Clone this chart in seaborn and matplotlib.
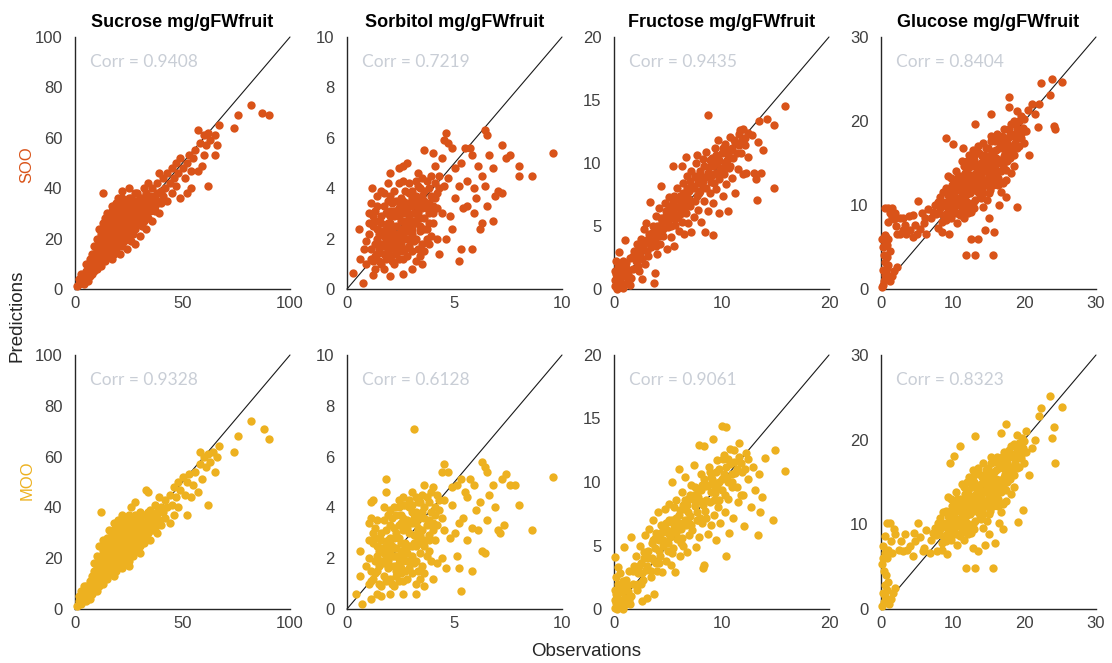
import matplotlib
matplotlib.use("Agg")
import matplotlib.pyplot as plt
import seaborn as sns
import pandas as pd

# ---- sugar panels ----
sugars = ["Sucrose", "Sorbitol", "Fructose", "Glucose"]
unit = "mg/gFWfruit"
axis_max = [100, 10, 20, 30]
x_ticks = [[0, 50, 100], [0, 5, 10], [0, 10, 20], [0, 10, 20, 30]]
y_ticks = [[0, 20, 40, 60, 80, 100], [0, 2, 4, 6, 8, 10], [0, 5, 10, 15, 20], [0, 10, 20, 30]]

models = ["SOO", "MOO"]
model_colors = ["#D95319", "#EDB120"]
corr_soo = [0.9408, 0.7219, 0.9435, 0.8404]
corr_moo = [0.9328, 0.6128, 0.9061, 0.8323]

# (observation, prediction) pairs per sugar and model
sucrose_soo = [
    (1, 1), (2, 2), (2, 4), (3, 3), (3, 6), (4, 2), (4, 5), (5, 4), (5, 7), (5, 10),
    (6, 3), (6, 6), (6, 9), (7, 5), (7, 8), (7, 12), (8, 6), (8, 10), (8, 14), (9, 7),
    (9, 11), (9, 17), (10, 8), (10, 13), (10, 20), (11, 10), (11, 15), (11, 24), (12, 9), (12, 12),
    (12, 17), (12, 22), (13, 14), (13, 19), (13, 26), (13, 38), (14, 11), (14, 16), (14, 21), (14, 28),
    (15, 13), (15, 18), (15, 23), (15, 30), (16, 15), (16, 20), (16, 26), (17, 12), (17, 17), (17, 22),
    (17, 28), (17, 33), (18, 14), (18, 19), (18, 24), (18, 30), (19, 16), (19, 21), (19, 27), (19, 34),
    (20, 18), (20, 23), (20, 29), (20, 36), (21, 14), (21, 20), (21, 25), (21, 31), (22, 17), (22, 22),
    (22, 27), (22, 33), (22, 39), (23, 19), (23, 24), (23, 29), (23, 35), (24, 16), (24, 21), (24, 26),
    (24, 31), (25, 23), (25, 28), (25, 34), (25, 40), (26, 19), (26, 25), (26, 30), (26, 36), (27, 22),
    (27, 27), (27, 32), (28, 18), (28, 24), (28, 29), (28, 35), (29, 26), (29, 31), (29, 38), (30, 21),
    (30, 28), (30, 33), (31, 25), (31, 30), (31, 36), (32, 27), (32, 32), (32, 40), (33, 24), (33, 30),
    (33, 35), (34, 28), (34, 33), (34, 42), (35, 31), (35, 37), (36, 27), (36, 34), (36, 40), (37, 31),
    (37, 37), (38, 35), (38, 42), (39, 30), (39, 46), (40, 34), (40, 39), (41, 37), (41, 44), (42, 40),
    (43, 35), (43, 46), (44, 42), (45, 38), (45, 48), (46, 44), (47, 41), (47, 50), (48, 46), (49, 36),
    (49, 52), (50, 48), (51, 44), (52, 50), (52, 38), (53, 53), (54, 40), (54, 47), (55, 52), (56, 55),
    (57, 47), (57, 63), (58, 58), (59, 49), (60, 53), (60, 61), (61, 57), (62, 62), (62, 41), (63, 59),
    (65, 53), (65, 61), (66, 57), (67, 65), (74, 64), (76, 69), (82, 73), (87, 70), (90, 69),
    (6, 7), (7, 9), (8, 8), (8, 12), (9, 9), (9, 14), (10, 10), (10, 16), (11, 12), (11, 18),
    (12, 14), (12, 19), (13, 12), (13, 17), (13, 22), (14, 14), (14, 19), (14, 24), (15, 16), (15, 21),
    (15, 27), (16, 18), (16, 23), (16, 29), (17, 15), (17, 20), (17, 25), (17, 31), (18, 17), (18, 22),
    (18, 27), (18, 33), (19, 19), (19, 24), (19, 30), (20, 21), (20, 26), (20, 32), (21, 23), (21, 28),
    (21, 34), (22, 20), (22, 25), (22, 30), (22, 36), (23, 22), (23, 27), (23, 32), (24, 24), (24, 29),
    (24, 34), (25, 20), (25, 26), (25, 31), (25, 36), (26, 27), (26, 33), (27, 24), (27, 29), (27, 35),
    (28, 27), (28, 32), (28, 38), (29, 29), (29, 34), (30, 26), (30, 30), (30, 36), (31, 28), (31, 33),
    (32, 30), (32, 35), (33, 32), (33, 38), (34, 31), (34, 36), (35, 34), (36, 36), (37, 33), (38, 38),
]
sucrose_moo = [
    (1, 1), (2, 3), (2, 5), (3, 2), (3, 7), (4, 4), (4, 9), (5, 3), (5, 6), (5, 9),
    (6, 5), (6, 8), (7, 4), (7, 7), (7, 11), (8, 6), (8, 9), (8, 13), (9, 8), (9, 12),
    (9, 18), (10, 7), (10, 11), (10, 15), (10, 21), (11, 9), (11, 14), (11, 25), (12, 11), (12, 16),
    (12, 20), (12, 38), (13, 10), (13, 15), (13, 21), (13, 27), (14, 13), (14, 18), (14, 24), (15, 12),
    (15, 17), (15, 22), (15, 28), (16, 14), (16, 19), (16, 25), (16, 31), (17, 16), (17, 21), (17, 27),
    (18, 13), (18, 18), (18, 23), (18, 29), (18, 34), (19, 15), (19, 20), (19, 26), (19, 32), (20, 17),
    (20, 22), (20, 28), (20, 35), (21, 19), (21, 24), (21, 30), (22, 16), (22, 21), (22, 26), (22, 32),
    (22, 37), (23, 18), (23, 23), (23, 28), (23, 34), (24, 20), (24, 25), (24, 30), (24, 36), (25, 17),
    (25, 22), (25, 27), (25, 33), (26, 24), (26, 29), (26, 35), (26, 40), (27, 21), (27, 26), (27, 31),
    (28, 23), (28, 28), (28, 34), (28, 42), (29, 25), (29, 30), (29, 36), (30, 22), (30, 27), (30, 32),
    (30, 38), (31, 29), (31, 34), (32, 26), (32, 31), (32, 37), (33, 28), (33, 33), (33, 47), (34, 30),
    (34, 36), (34, 46), (35, 27), (35, 33), (35, 39), (36, 31), (36, 37), (37, 34), (37, 41), (38, 30),
    (38, 38), (39, 35), (39, 44), (40, 33), (40, 40), (41, 38), (42, 36), (42, 43), (43, 40), (44, 34),
    (44, 45), (45, 41), (46, 37), (46, 48), (47, 44), (48, 40), (48, 50), (49, 47), (50, 52), (51, 45),
    (52, 50), (52, 37), (53, 53), (54, 44), (55, 49), (56, 54), (57, 46), (58, 57), (58, 62), (59, 51),
    (60, 60), (61, 56), (62, 61), (62, 41), (63, 58), (64, 62), (65, 54), (66, 60), (67, 64), (74, 62),
    (76, 68), (82, 74), (88, 71), (90, 67),
    (6, 6), (7, 9), (8, 7), (8, 11), (9, 10), (9, 15), (10, 9), (10, 17), (11, 11), (11, 19),
    (12, 13), (12, 18), (13, 12), (13, 18), (13, 23), (14, 15), (14, 20), (14, 26), (15, 15), (15, 20),
    (15, 25), (16, 17), (16, 22), (16, 28), (17, 14), (17, 19), (17, 24), (17, 30), (18, 16), (18, 21),
    (18, 26), (18, 31), (19, 18), (19, 23), (19, 29), (20, 20), (20, 25), (20, 31), (21, 22), (21, 27),
    (21, 33), (22, 19), (22, 24), (22, 29), (22, 35), (23, 21), (23, 26), (23, 31), (24, 23), (24, 28),
    (24, 33), (25, 19), (25, 25), (25, 30), (25, 37), (26, 26), (26, 32), (27, 23), (27, 28), (27, 34),
    (28, 26), (28, 31), (28, 37), (29, 28), (29, 33), (30, 25), (30, 29), (30, 35), (31, 27), (31, 32),
    (32, 29), (32, 34), (33, 31), (33, 37), (34, 32), (34, 38), (35, 35), (36, 35), (37, 32), (38, 37),
]

sorbitol_soo = [
    (0.3, 0.65), (0.75, 0.25), (1.2, 0.55), (1.3, 0.8), (0.9, 1.0), (0.6, 1.2), (0.55, 2.4), (0.8, 1.6),
    (1.15, 4.0), (1.0, 3.0), (1.4, 3.7), (1.6, 3.9), (1.9, 4.2), (2.0, 4.6), (2.4, 4.8), (2.6, 4.9),
    (2.8, 5.0), (3.3, 4.6), (3.6, 5.5), (4.0, 5.4), (4.1, 4.9), (4.4, 5.2), (4.5, 5.9), (4.7, 5.8),
    (4.6, 6.2), (4.9, 5.6), (5.0, 4.8), (5.3, 5.0), (5.5, 5.6), (5.7, 5.6), (5.8, 5.3), (6.4, 6.3),
    (6.5, 6.1), (6.1, 4.9), (6.3, 4.5), (6.6, 5.3), (6.8, 4.8), (7.2, 5.7), (7.4, 5.2), (7.6, 5.3),
    (8.0, 4.9), (8.0, 4.5), (8.6, 4.5), (9.6, 5.4), (7.0, 3.9), (7.2, 3.8), (6.9, 3.7), (6.4, 4.1),
    (6.0, 3.6), (5.6, 3.3), (5.4, 3.2), (5.9, 3.0), (6.3, 2.6), (6.2, 2.4), (6.8, 2.7), (5.8, 1.6),
    (5.2, 1.1), (5.3, 1.6), (4.6, 2.0), (4.3, 1.4), (3.8, 1.8), (3.5, 1.0), (3.0, 0.8), (2.6, 0.6),
    (2.0, 0.5), (1.7, 0.8), (4.8, 2.9), (5.0, 3.6), (5.2, 4.1), (4.7, 4.4), (4.2, 3.8), (4.4, 3.0),
    (4.0, 2.6), (3.7, 2.4), (4.9, 2.4), (5.6, 4.3), (5.9, 4.0), (6.5, 3.3),
    (1.3, 1.3), (1.5, 1.6), (1.4, 2.0), (1.6, 2.3), (1.5, 2.7), (1.3, 3.1), (1.7, 3.3), (1.8, 1.2),
    (1.9, 1.5), (1.8, 1.9), (2.0, 2.2), (1.9, 2.6), (1.8, 3.0), (2.1, 3.4), (2.0, 3.7), (2.2, 1.0),
    (2.3, 1.4), (2.2, 1.8), (2.4, 2.1), (2.3, 2.5), (2.2, 2.9), (2.4, 3.2), (2.5, 3.6), (2.6, 1.2),
    (2.7, 1.6), (2.6, 2.0), (2.8, 2.3), (2.7, 2.7), (2.6, 3.0), (2.8, 3.4), (2.9, 3.8), (3.0, 1.5),
    (3.1, 1.9), (3.0, 2.2), (3.2, 2.6), (3.1, 3.0), (3.0, 3.3), (3.2, 3.7), (3.3, 4.1), (3.4, 1.3),
    (3.5, 1.8), (3.4, 2.3), (3.6, 2.8), (3.5, 3.2), (3.4, 3.5), (3.6, 3.9), (3.7, 4.3), (3.9, 2.1),
    (3.8, 3.0), (4.0, 3.3), (3.9, 3.7), (4.1, 4.2), (4.3, 4.5), (4.2, 2.0), (1.1, 1.6), (1.0, 2.2),
    (1.2, 2.5), (0.9, 1.9), (1.6, 1.0), (2.0, 1.3), (1.7, 1.7), (2.1, 2.0), (1.9, 2.4), (2.5, 2.4),
    (2.3, 3.1), (2.9, 2.0), (2.9, 2.6), (3.3, 2.8), (3.3, 3.3), (2.5, 1.8), (2.0, 2.9), (1.4, 2.4),
    (1.2, 1.1), (1.4, 1.4), (1.6, 1.8), (1.7, 2.1), (1.5, 2.2), (1.3, 2.7), (1.6, 2.9), (1.4, 3.3),
    (1.9, 3.5), (1.7, 3.8), (2.1, 1.1), (2.0, 1.6), (2.2, 2.0), (2.1, 2.4), (2.0, 2.6), (2.2, 3.1),
    (2.3, 3.5), (2.2, 3.9), (2.4, 4.2), (2.6, 4.3), (2.4, 1.2), (2.5, 1.5), (2.4, 1.9), (2.6, 2.2),
    (2.5, 2.7), (2.4, 2.9), (2.7, 3.2), (2.6, 3.5), (2.7, 3.9), (2.9, 4.2), (2.8, 1.3), (2.9, 1.7),
    (2.8, 2.0), (3.0, 2.4), (2.9, 2.9), (2.8, 3.1), (3.1, 3.5), (3.0, 3.9), (3.2, 4.3), (3.5, 4.4),
    (3.2, 1.1), (3.3, 1.6), (3.2, 2.0), (3.4, 2.5), (3.3, 3.0), (3.2, 3.3), (3.5, 3.7), (3.4, 4.0),
    (3.8, 4.0), (3.9, 4.5), (3.6, 1.5), (3.7, 2.0), (3.6, 2.4), (3.8, 2.6), (3.7, 3.2), (3.6, 3.5),
    (4.0, 3.0), (4.1, 3.6), (4.3, 4.0), (4.5, 4.1), (1.1, 1.2), (1.0, 2.6), (1.2, 2.9), (1.1, 3.4),
    (1.5, 1.1), (1.7, 1.4), (1.9, 1.8), (2.3, 2.2), (2.7, 2.5), (3.1, 2.7), (1.6, 2.6), (2.0, 3.1),
    (2.5, 3.3), (3.0, 3.6), (3.4, 2.8), (3.8, 3.4), (4.2, 3.2), (2.3, 1.6), (1.3, 1.8), (1.8, 2.4),
]
sorbitol_moo = [
    (0.4, 0.6), (0.7, 0.2), (1.1, 0.4), (1.4, 0.6), (1.0, 1.0), (0.6, 1.3), (0.6, 2.3), (1.0, 3.4),
    (1.1, 4.2), (1.2, 4.3), (1.8, 4.6), (1.8, 5.1), (2.4, 4.3), (2.6, 4.4), (3.1, 7.1), (3.0, 4.6),
    (3.6, 4.9), (4.0, 4.8), (4.2, 4.5), (4.5, 5.7), (4.4, 5.4), (4.7, 5.4), (4.9, 4.8), (5.1, 4.9),
    (5.3, 5.1), (5.5, 4.6), (5.7, 5.1), (5.9, 4.9), (6.4, 5.6), (6.3, 5.8), (6.5, 5.4), (6.8, 4.9),
    (7.2, 5.1), (7.4, 5.3), (7.8, 4.9), (7.6, 4.9), (8.0, 4.1), (8.6, 3.1), (9.6, 5.2), (6.9, 4.0),
    (7.0, 3.1), (7.3, 3.3), (7.1, 3.0), (6.5, 3.5), (6.0, 3.9), (6.2, 4.2), (5.6, 4.4), (5.4, 3.6),
    (5.2, 3.4), (5.8, 3.2), (6.1, 3.1), (6.3, 2.3), (6.4, 2.2), (5.8, 1.5), (5.3, 0.7), (5.2, 1.6),
    (4.6, 1.6), (4.4, 2.0), (4.0, 1.2), (3.6, 0.9), (3.2, 0.6), (2.6, 0.6), (2.0, 0.6), (1.6, 0.5),
    (4.8, 2.8), (5.0, 3.0), (4.9, 4.1), (4.4, 3.6), (4.5, 3.1), (4.1, 2.7), (3.8, 2.3), (5.1, 2.1),
    (5.6, 2.7), (6.6, 4.5),
    (1.3, 1.4), (1.5, 1.7), (1.4, 2.1), (1.6, 2.4), (1.5, 2.8), (1.3, 3.2), (1.7, 3.5), (1.8, 1.1),
    (1.9, 1.6), (1.8, 2.0), (2.0, 2.3), (1.9, 2.7), (1.8, 3.1), (2.1, 3.6), (2.0, 3.9), (2.2, 0.9),
    (2.3, 1.3), (2.2, 1.7), (2.4, 2.0), (2.3, 2.4), (2.2, 2.8), (2.4, 3.3), (2.5, 3.7), (2.6, 1.1),
    (2.7, 1.5), (2.6, 1.9), (2.8, 2.2), (2.7, 2.6), (2.6, 3.1), (2.8, 3.5), (2.9, 4.0), (3.0, 1.4),
    (3.1, 1.8), (3.0, 2.1), (3.2, 2.5), (3.1, 2.9), (3.0, 3.4), (3.2, 3.8), (3.3, 4.2), (3.4, 1.2),
    (3.5, 1.7), (3.4, 2.2), (3.6, 2.7), (3.5, 3.1), (3.4, 3.6), (3.6, 4.0), (3.7, 4.4), (3.9, 1.9),
    (3.8, 2.9), (4.0, 3.4), (3.9, 3.8), (4.1, 4.0), (4.3, 4.3), (4.2, 1.8), (1.1, 1.5), (1.0, 2.0),
    (1.2, 2.6), (0.9, 1.7), (1.6, 0.9), (2.0, 1.2), (1.7, 1.8), (2.1, 2.1), (1.9, 2.3), (2.5, 2.3),
    (2.3, 3.0), (2.9, 1.9), (2.9, 2.5), (3.3, 2.7), (3.3, 3.2), (2.5, 1.6), (2.0, 2.8), (1.4, 2.5),
    (1.2, 1.2), (1.4, 1.5), (1.6, 1.9), (1.7, 2.2), (1.5, 2.3), (1.3, 2.8), (1.6, 3.0), (1.4, 3.5),
    (1.9, 3.7), (1.7, 4.0), (2.1, 1.0), (2.0, 1.7), (2.2, 2.1), (2.1, 2.5), (2.0, 2.7), (2.2, 3.2),
    (2.3, 3.7), (2.2, 4.0), (2.4, 4.0), (2.6, 4.1), (2.4, 1.1), (2.5, 1.4), (2.4, 1.8), (2.6, 2.1),
    (2.5, 2.6), (2.4, 2.8), (2.7, 3.3), (2.6, 3.6), (2.7, 4.1), (2.9, 4.3), (2.8, 1.2), (2.9, 1.6),
    (2.8, 1.9), (3.0, 2.5), (2.9, 3.0), (2.8, 3.2), (3.1, 3.6), (3.0, 4.1), (3.2, 4.4), (3.5, 4.5),
    (3.2, 1.0), (3.3, 1.5), (3.2, 1.9), (3.4, 2.6), (3.3, 3.1), (3.2, 3.4), (3.5, 3.8), (3.4, 4.2),
    (3.8, 4.2), (3.9, 4.6), (3.6, 1.4), (3.7, 2.1), (3.6, 2.5), (3.8, 2.7), (3.7, 3.3), (3.6, 3.6),
    (4.0, 3.1), (4.1, 3.7), (4.3, 3.9), (4.5, 4.3), (1.1, 1.1), (1.0, 2.7), (1.2, 3.0), (1.1, 3.6),
    (1.5, 1.0), (1.7, 1.3), (1.9, 1.9), (2.3, 2.1), (2.7, 2.4), (3.1, 2.6), (1.6, 2.7), (2.0, 3.3),
    (2.5, 3.4), (3.0, 3.8), (3.4, 2.9), (3.8, 3.5), (4.2, 3.3), (2.3, 1.5), (1.3, 1.9), (1.8, 2.5),
]

fructose_soo = [
    (0.1, 0.2), (0.2, 0.6), (0.3, 1.0), (0.1, 1.4), (0.4, 1.8), (0.2, 2.2), (0.5, 0.3), (0.6, 0.8),
    (0.7, 1.3), (0.5, 2.9), (0.9, 0.4), (1.0, 1.0), (0.9, 1.7), (1.2, 0.5), (1.3, 1.2), (1.1, 2.1),
    (0.3, 0.0), (0.8, 0.1), (1.5, 0.3), (1.6, 0.9), (1.0, 3.9), (1.5, 2.5), (1.8, 1.6), (1.9, 3.0),
    (2.0, 2.2), (2.1, 3.6), (2.3, 1.4), (2.4, 2.7), (2.5, 4.0), (2.6, 0.8), (2.7, 3.2), (2.8, 4.8),
    (2.9, 2.0), (3.0, 3.8), (3.0, 5.2), (3.2, 2.6), (3.3, 4.4), (3.35, 6.9), (3.4, 3.3), (3.6, 5.0),
    (3.7, 0.5), (3.8, 1.3), (3.8, 4.0), (3.9, 5.8), (4.0, 2.8), (4.1, 4.6), (4.2, 6.4), (4.4, 8.2),
    (4.3, 3.6), (4.5, 5.3), (4.6, 4.2), (4.7, 6.8), (4.8, 5.9), (4.9, 3.2), (5.0, 4.9), (5.1, 7.3),
    (5.2, 6.2), (5.3, 4.1), (5.4, 5.6), (5.5, 9.8), (5.5, 7.0), (5.6, 3.4), (5.7, 5.1), (5.8, 6.5),
    (5.9, 8.0), (6.0, 4.6), (6.0, 5.9), (6.1, 7.4), (6.3, 9.8), (6.2, 6.7), (6.3, 5.3), (6.4, 8.4),
    (6.5, 4.4), (6.6, 7.1), (6.7, 10.5), (6.7, 6.0), (6.8, 9.0), (6.9, 5.2), (7.0, 7.8), (7.1, 6.6),
    (7.2, 4.5), (7.2, 9.4), (7.3, 8.2), (7.4, 5.7), (7.5, 7.0), (7.6, 10.0), (7.7, 10.6), (7.7, 8.8),
    (7.8, 6.3), (7.9, 7.6), (8.0, 9.4), (8.1, 5.3), (8.2, 8.3), (8.3, 10.3), (8.4, 7.0), (8.5, 4.5),
    (8.5, 8.9), (8.6, 10.9), (8.7, 13.8), (8.7, 6.2), (8.8, 9.7), (8.9, 7.6), (9.0, 8.5), (9.1, 10.4),
    (9.2, 4.3), (9.2, 6.8), (9.3, 9.1), (9.4, 11.2), (9.5, 7.9), (9.6, 10.0), (9.7, 11.8), (9.8, 6.0),
    (9.8, 8.7), (9.9, 9.5), (10.0, 10.8), (10.1, 7.4), (10.2, 9.1), (10.3, 11.5), (10.4, 8.3), (10.5, 10.2),
    (10.6, 6.2), (10.7, 9.6), (10.8, 12.1), (10.9, 11.0), (11.0, 8.8), (11.1, 10.4), (11.3, 7.6), (11.3, 11.7),
    (11.5, 9.5), (11.6, 12.3), (11.7, 12.6), (11.8, 10.8), (12.0, 12.7), (12.0, 9.1), (12.3, 9.2), (12.2, 11.4),
    (12.5, 10.5), (12.8, 12.2), (13.0, 9.2), (13.2, 8.7), (13.3, 7.1), (13.4, 11.7), (13.5, 13.3), (13.7, 9.2),
    (13.9, 11.0), (14.2, 13.5), (14.9, 13.0), (14.9, 8.0), (15.9, 14.5),
    (1.8, 2.6), (2.2, 1.8), (2.3, 3.0), (2.6, 2.4), (2.8, 3.6), (3.1, 3.0), (3.2, 4.0), (3.5, 3.6),
    (3.6, 4.5), (3.9, 3.4), (4.0, 5.0), (4.2, 4.2), (4.4, 5.6), (4.6, 4.8), (4.8, 6.2), (5.0, 5.4),
    (5.1, 6.6), (5.3, 5.0), (5.5, 6.0), (5.6, 7.4), (5.8, 5.6), (6.0, 6.4), (6.1, 7.0), (6.3, 6.0),
    (6.4, 7.6), (6.6, 6.6), (6.8, 8.0), (6.9, 7.2), (7.1, 8.6), (7.2, 7.0), (7.4, 8.0), (7.5, 9.0),
    (7.7, 7.4), (7.8, 8.4), (8.0, 7.8), (8.1, 9.0), (8.3, 8.6), (8.4, 9.8), (8.6, 8.0), (8.7, 9.2),
    (8.9, 10.2), (9.0, 9.0), (9.2, 9.8), (9.3, 8.4), (9.5, 10.6), (9.6, 9.2), (9.8, 10.2), (10.0, 9.6),
    (10.1, 11.2), (10.3, 10.0), (10.4, 11.0), (10.6, 10.6), (10.8, 9.8), (11.0, 11.2), (11.2, 11.8), (11.4, 10.8),
    (11.6, 11.4), (11.9, 11.9), (12.2, 12.0), (12.5, 12.4), (0.2, 1.2), (0.4, 0.6), (0.6, 1.6), (0.8, 2.2),
    (1.2, 1.6), (1.4, 0.7), (0.1, 0.7), (0.7, 0.2),
]
fructose_moo = [
    (0.1, 0.1), (0.2, 0.5), (0.3, 1.0), (0.1, 1.5), (0.4, 2.0), (0.2, 2.5), (0.5, 0.2), (0.6, 0.7),
    (0.7, 1.3), (0.6, 2.8), (0.9, 0.3), (1.0, 0.9), (0.9, 1.8), (1.2, 0.6), (1.3, 1.4), (1.1, 2.3),
    (0.3, 0.0), (0.8, 0.0), (1.5, 0.4), (1.6, 1.0), (0.1, 4.1), (0.9, 4.9), (1.6, 5.7), (1.4, 3.0),
    (1.8, 2.0), (1.9, 3.4), (0.4, 3.3),
    (2.0, 4.2), (2.1, 1.5), (2.2, 2.8), (2.4, 5.0), (2.5, 3.6), (2.6, 0.6), (2.7, 2.3), (2.8, 4.5),
    (2.9, 5.8), (3.0, 3.1), (3.1, 0.9), (3.2, 4.0), (3.3, 6.3), (3.4, 2.5), (3.5, 5.2), (3.6, 7.0),
    (3.7, 1.2), (3.7, 3.8), (3.8, 4.8), (3.9, 6.0), (4.0, 3.0), (4.1, 7.6), (4.2, 5.4), (4.3, 4.2),
    (4.4, 6.6), (4.5, 2.9), (4.6, 5.0), (4.7, 7.9), (4.8, 3.8), (4.9, 6.2), (5.0, 4.6), (5.1, 8.3),
    (5.2, 5.7), (5.3, 3.5), (5.4, 10.0), (5.4, 7.0), (5.5, 4.8), (5.6, 6.4), (5.7, 2.9), (5.8, 8.6),
    (5.9, 5.5), (6.0, 11.0), (6.0, 7.4), (6.1, 4.2), (6.2, 6.3), (6.3, 9.2), (6.4, 5.0), (6.5, 7.9),
    (6.6, 10.4), (6.7, 6.6), (6.8, 4.5), (6.9, 8.7), (7.0, 5.8), (7.1, 7.3), (7.2, 9.8), (7.3, 6.2),
    (7.4, 11.3), (7.5, 8.1), (7.6, 4.9), (7.7, 7.0), (7.8, 9.3), (7.9, 12.9), (7.9, 5.7), (8.0, 8.5),
    (8.1, 10.6), (8.2, 6.8), (8.3, 3.2), (8.4, 12.8), (8.4, 3.5), (8.5, 7.7), (8.6, 9.7), (8.7, 5.9),
    (8.8, 11.2), (8.9, 8.4), (9.0, 6.6), (9.1, 10.2), (9.2, 13.4), (9.3, 7.4), (9.4, 9.1), (9.5, 5.4),
    (9.6, 11.7), (9.7, 8.0), (9.8, 10.0), (9.9, 6.8), (10.0, 14.4), (10.0, 9.4), (10.2, 12.1), (10.3, 7.6),
    (10.4, 14.3), (10.4, 4.2), (10.5, 10.4), (10.6, 8.7), (10.7, 6.0), (10.8, 11.4), (11.0, 9.6), (11.1, 7.2),
    (11.2, 12.5), (11.3, 10.7), (11.5, 8.4), (11.6, 13.1), (11.8, 11.5), (12.0, 9.0), (12.1, 6.5), (12.3, 12.3),
    (12.5, 10.2), (12.7, 8.0), (12.9, 11.2), (13.1, 9.4), (13.4, 5.8), (13.5, 10.6), (13.6, 7.6), (13.8, 8.8),
    (14.0, 11.9), (14.8, 7.0), (15.0, 12.5), (15.9, 10.9),
    (1.8, 3.0), (2.2, 2.0), (2.3, 3.4), (2.6, 2.8), (2.8, 4.0), (3.1, 3.4), (3.2, 4.6), (3.5, 4.0),
    (3.6, 5.4), (3.9, 3.6), (4.0, 5.8), (4.2, 4.6), (4.4, 6.0), (4.6, 5.4), (4.8, 6.8), (5.0, 5.2),
    (5.1, 7.0), (5.3, 6.0), (5.5, 6.8), (5.6, 8.0), (5.8, 6.0), (6.0, 6.8), (6.1, 7.8), (6.3, 5.6),
    (6.4, 8.2), (6.6, 7.0), (6.8, 8.2), (6.9, 7.6), (7.1, 9.0), (7.2, 6.6), (7.4, 8.6), (7.5, 9.6),
    (7.7, 7.6), (7.8, 8.8), (8.0, 7.2), (8.1, 9.4), (8.3, 8.2), (8.4, 10.2), (8.6, 8.6), (8.7, 9.8),
    (8.9, 10.8), (9.0, 9.2), (9.2, 10.0), (9.3, 8.6), (9.5, 10.8), (9.6, 9.6), (9.8, 11.0), (10.0, 10.2),
    (10.1, 11.8), (10.3, 9.0), (10.4, 11.2), (10.6, 10.0), (10.8, 12.6), (11.0, 10.6), (11.2, 11.6), (11.4, 9.6),
    (11.6, 12.0), (11.9, 10.8), (12.2, 11.0), (12.5, 11.8), (0.2, 1.2), (0.4, 0.6), (0.6, 1.6), (0.8, 2.2),
    (1.2, 1.8), (1.4, 0.7), (0.1, 0.7), (0.7, 0.2),
    (2.5, 2.0), (3.0, 4.4), (3.4, 3.0), (3.8, 5.6), (4.2, 3.6), (4.6, 6.4), (5.0, 6.0), (5.4, 4.4),
    (5.8, 7.2), (6.2, 5.2), (6.6, 8.6), (7.0, 6.8), (7.4, 9.0), (7.8, 7.0), (8.2, 9.8), (8.6, 7.2),
    (9.0, 10.4), (9.4, 9.6), (9.8, 8.6), (10.2, 10.6), (10.6, 11.8), (11.0, 10.0), (11.4, 11.0), (11.8, 9.0),
]

glucose_soo = [
    (0.2, 0.2), (0.3, 0.5), (0.5, 1.2), (0.7, 2.0), (1.0, 2.9), (0.8, 3.8), (1.2, 4.5), (1.5, 1.5),
    (1.8, 2.1), (1.3, 1.0), (2.3, 2.6), (0.4, 0.9), (0.6, 1.7), (0.9, 2.5), (0.5, 3.2), (0.3, 2.3),
    (1.0, 9.6), (1.5, 9.6), (0.5, 6.4), (0.7, 6.2), (1.0, 6.0), (0.3, 5.0), (0.5, 5.3), (1.5, 8.6),
    (2.1, 7.5), (2.3, 6.5), (3.0, 8.5), (3.5, 6.5), (3.9, 8.7), (4.0, 7.0), (4.7, 7.6), (5.2, 10.5),
    (5.7, 9.0), (6.0, 7.9), (6.3, 6.6), (6.6, 9.5), (5.0, 6.5), (2.7, 6.6), (1.8, 8.3), (1.2, 9.0),
    (0.6, 9.6), (2.0, 9.0), (1.0, 8.0), (2.6, 8.4), (3.3, 7.6), (4.4, 8.8), (5.5, 7.2), (6.2, 8.4),
    (4.5, 6.2), (3.0, 7.0), (0.2, 6.0), (0.4, 4.0), (0.9, 5.2),
    (9.0, 18.0), (10.0, 17.3), (11.5, 16.8), (13.1, 19.6), (15.4, 20.8), (17.8, 22.9), (17.8, 21.7),
    (19.0, 21.2), (20.0, 20.2), (21.0, 22.0), (22.3, 24.5), (23.8, 25.0), (25.2, 24.6), (23.6, 23.1),
    (24.2, 19.4), (24.3, 19.1), (21.9, 19.3), (20.5, 21.3), (19.5, 20.6), (18.5, 20.0), (21.5, 20.8),
    (22.0, 22.0),
    (19.0, 9.8), (15.6, 4.1), (11.9, 4.1), (13.1, 4.1), (15.8, 6.8), (14.5, 7.0), (13.5, 6.0),
    (12.5, 6.0), (17.5, 11.0), (16.5, 10.0), (15.0, 8.5), (9.5, 6.5), (8.5, 6.8), (8.0, 7.3),
    (7.0, 8.5), (7.5, 10.0), (8.0, 9.0), (8.2, 11.0), (8.5, 8.0), (8.8, 10.2), (9.0, 12.0), (9.2, 9.0),
    (9.4, 13.5), (9.6, 10.8), (9.8, 8.5), (10.0, 11.8), (10.2, 9.6), (10.4, 14.0), (10.5, 12.6), (10.6, 7.8),
    (10.8, 10.6), (11.0, 13.4), (11.2, 9.2), (11.3, 15.2), (11.4, 11.6), (11.6, 8.4), (11.8, 12.8), (12.0, 10.4),
    (12.1, 14.4), (12.3, 16.0), (12.4, 11.4), (12.6, 9.2), (12.8, 13.2), (13.0, 15.4), (13.1, 10.6), (13.3, 12.2),
    (13.5, 17.0), (13.6, 14.2), (13.8, 11.2), (14.0, 13.4), (14.1, 15.8), (14.3, 9.8), (14.5, 12.4), (14.6, 16.8),
    (14.8, 14.6), (15.0, 11.4), (15.1, 13.6), (15.3, 17.6), (15.5, 15.4), (15.6, 12.4), (15.8, 14.2), (16.0, 16.6),
    (16.2, 18.4), (16.3, 13.2), (16.5, 15.4), (16.7, 11.6), (16.8, 17.2), (17.0, 14.6), (17.2, 19.0), (17.3, 16.2),
    (17.5, 13.0), (17.7, 18.0), (18.0, 15.6), (18.2, 19.6), (18.3, 17.0), (18.6, 14.6), (18.8, 18.6), (19.0, 16.8),
    (19.2, 20.0), (19.5, 18.0), (19.8, 19.2), (20.0, 17.4), (20.3, 18.8), (20.6, 16.0), (9.3, 11.2), (10.9, 12.0),
    (11.7, 10.2), (12.7, 12.0), (13.9, 12.6), (14.9, 15.8), (16.1, 14.2), (17.6, 15.2), (12.2, 13.0), (13.4, 13.8),
    (11.1, 11.0), (15.7, 16.4),
    (8.3, 9.6), (8.7, 8.8), (9.0, 10.4), (9.2, 9.8), (9.5, 11.6), (9.7, 9.4), (9.9, 12.4), (10.1, 10.2),
    (10.3, 11.0), (10.5, 9.0), (10.7, 11.8), (10.9, 10.0), (11.0, 12.8), (11.3, 10.8), (11.5, 12.2), (11.7, 13.8),
    (11.9, 11.2), (12.1, 12.4), (12.3, 10.0), (12.5, 13.6), (12.7, 14.6), (12.9, 11.8), (13.1, 13.0), (13.3, 14.8),
    (13.5, 11.6), (13.7, 13.2), (13.9, 15.0), (14.1, 12.0), (14.3, 14.0), (14.5, 15.2), (14.7, 13.0), (14.9, 16.8),
    (15.1, 14.4), (15.3, 12.6), (15.5, 16.2), (15.7, 14.8), (15.9, 17.6), (16.1, 15.6), (16.3, 12.4), (16.5, 16.8),
    (16.7, 14.0), (16.9, 18.2), (17.1, 15.8), (17.3, 17.4), (17.5, 14.2), (17.7, 16.8), (17.9, 19.0), (18.1, 16.4),
    (18.4, 18.2), (18.7, 17.4), (19.0, 19.2), (19.3, 17.0), (19.6, 18.6), (20.0, 18.8), (19.7, 20.4), (8.0, 10.4),
    (7.7, 8.9), (7.2, 9.2), (11.6, 14.6), (12.9, 16.6), (13.7, 16.2), (14.2, 17.4), (10.3, 12.8), (11.9, 9.6),
    (13.0, 9.6), (14.0, 10.8), (15.2, 11.8), (16.0, 13.8), (17.0, 12.6), (18.2, 13.8),
    (9.5, 10.0), (10.0, 9.0), (10.4, 10.6), (10.8, 12.4), (11.2, 11.8), (11.5, 9.8), (11.9, 13.2), (12.3, 11.8),
    (12.6, 12.8), (12.9, 10.2), (13.2, 13.8), (13.6, 12.6), (13.9, 14.2), (14.2, 11.4), (14.4, 13.0), (14.7, 14.0),
    (15.0, 15.2), (15.3, 13.2), (15.6, 15.8), (15.9, 13.0), (16.2, 15.0), (16.6, 17.8), (16.9, 15.0), (17.2, 16.8),
    (17.6, 17.4), (18.0, 18.4), (18.5, 16.0), (19.0, 18.0), (8.6, 11.6), (9.8, 13.2), (10.6, 13.2), (12.0, 15.2),
    (13.0, 16.0), (14.4, 16.0), (15.4, 18.2), (9.0, 8.2), (11.0, 8.8), (12.2, 9.0), (14.8, 10.6), (16.4, 12.8),
]
glucose_moo = [
    (0.2, 0.3), (0.4, 0.8), (0.6, 1.5), (0.8, 2.3), (1.0, 3.2), (0.7, 4.0), (1.4, 1.2), (1.7, 1.9),
    (2.0, 2.5), (1.1, 0.6), (0.3, 1.9), (0.5, 2.8), (0.9, 1.1),
    (0.8, 10.2), (1.3, 10.2), (0.3, 7.4), (0.5, 6.6), (0.2, 5.3), (0.9, 6.0), (2.0, 8.8), (3.4, 8.8),
    (1.4, 8.0), (2.5, 7.0), (3.0, 6.8), (4.0, 7.4), (4.4, 6.3), (5.2, 10.2), (5.5, 8.5), (6.0, 7.2),
    (6.3, 9.3), (6.8, 6.6), (4.8, 8.0), (1.0, 7.0), (0.4, 4.5), (0.6, 8.6), (1.8, 9.4), (2.8, 8.0),
    (3.6, 7.0), (4.6, 9.0), (5.8, 6.8), (1.6, 6.6), (0.3, 6.0),
    (11.0, 19.2), (10.2, 18.1), (9.6, 17.3), (13.1, 20.4), (16.8, 20.8), (17.5, 21.8), (19.0, 20.5),
    (20.2, 21.0), (21.0, 19.0), (22.3, 23.7), (23.6, 25.2), (25.2, 23.9), (22.0, 22.8), (24.1, 21.5),
    (23.9, 20.2), (24.3, 17.2), (21.5, 20.0), (20.0, 19.8), (18.5, 19.5),
    (19.8, 11.7), (19.1, 10.3), (15.6, 4.9), (11.9, 4.9), (13.1, 4.9), (15.9, 7.8), (14.5, 7.6),
    (13.6, 6.9), (12.8, 7.2), (17.0, 9.5), (16.5, 10.2), (15.0, 8.8), (9.2, 6.5), (8.5, 7.0), (7.8, 6.8),
    (7.0, 8.2), (7.5, 9.6), (8.0, 8.8), (8.2, 10.8), (8.5, 7.8), (8.8, 10.0), (9.0, 11.6), (9.2, 8.8),
    (9.4, 13.2), (9.6, 10.4), (9.8, 8.2), (10.0, 11.4), (10.2, 9.4), (10.4, 13.8), (10.5, 12.2), (10.6, 7.6),
    (10.8, 10.4), (11.0, 13.0), (11.2, 9.0), (11.3, 14.8), (11.4, 11.4), (11.6, 8.2), (11.8, 12.6), (12.0, 10.2),
    (12.1, 14.0), (12.3, 15.6), (12.4, 11.2), (12.6, 9.0), (12.8, 13.0), (13.0, 15.0), (13.1, 10.4), (13.3, 12.0),
    (13.5, 16.6), (13.6, 14.0), (13.8, 11.0), (14.0, 13.2), (14.1, 15.6), (14.3, 9.6), (14.5, 12.2), (14.6, 16.4),
    (14.8, 14.4), (15.0, 11.2), (15.1, 13.4), (15.3, 17.2), (15.5, 15.2), (15.6, 12.2), (15.8, 14.0), (16.0, 16.4),
    (16.2, 18.0), (16.3, 13.0), (16.5, 15.2), (16.7, 11.4), (16.8, 17.0), (17.0, 14.4), (17.2, 18.6), (17.3, 16.0),
    (17.5, 12.8), (17.7, 17.8), (18.0, 15.4), (18.2, 19.2), (18.3, 16.8), (18.6, 14.4), (18.8, 18.4), (19.0, 16.6),
    (19.2, 19.6), (19.5, 17.8), (19.8, 19.0), (20.0, 17.2), (20.3, 18.6), (20.6, 15.8), (9.3, 11.0), (10.9, 11.8),
    (11.7, 10.0), (12.7, 11.8), (13.9, 12.4), (14.9, 15.6), (16.1, 14.0), (17.6, 15.0), (12.2, 12.8), (13.4, 13.6),
    (11.1, 10.8), (15.7, 16.2),
    (8.3, 9.4), (8.7, 8.6), (9.0, 10.2), (9.2, 9.6), (9.5, 11.4), (9.7, 9.2), (9.9, 12.2), (10.1, 10.0),
    (10.3, 10.8), (10.5, 8.8), (10.7, 11.6), (10.9, 9.8), (11.0, 12.6), (11.3, 10.6), (11.5, 12.0), (11.7, 13.6),
    (11.9, 11.0), (12.1, 12.2), (12.3, 9.8), (12.5, 13.4), (12.7, 14.4), (12.9, 11.6), (13.1, 12.8), (13.3, 14.6),
    (13.5, 11.4), (13.7, 13.0), (13.9, 14.8), (14.1, 11.8), (14.3, 13.8), (14.5, 15.0), (14.7, 12.8), (14.9, 16.6),
    (15.1, 14.2), (15.3, 12.4), (15.5, 16.0), (15.7, 14.6), (15.9, 17.4), (16.1, 15.4), (16.3, 12.2), (16.5, 16.6),
    (16.7, 13.8), (16.9, 18.0), (17.1, 15.6), (17.3, 17.2), (17.5, 14.0), (17.7, 16.6), (17.9, 18.8), (18.1, 16.2),
    (18.4, 18.0), (18.7, 17.2), (19.0, 19.0), (19.3, 16.8), (19.6, 18.4), (20.0, 18.6), (19.7, 20.2), (8.0, 10.2),
    (7.7, 8.7), (7.2, 9.0), (11.6, 14.4), (12.9, 16.4), (13.7, 16.0), (14.2, 17.2), (10.3, 12.6), (11.9, 9.4),
    (13.0, 9.4), (14.0, 10.6), (15.2, 11.6), (16.0, 13.6), (17.0, 12.4), (18.2, 13.6),
    (9.5, 9.8), (10.0, 8.8), (10.4, 10.4), (10.8, 12.2), (11.2, 11.6), (11.5, 9.6), (11.9, 13.0), (12.3, 11.6),
    (12.6, 12.6), (12.9, 10.0), (13.2, 13.6), (13.6, 12.4), (13.9, 14.0), (14.2, 11.2), (14.4, 12.8), (14.7, 13.8),
    (15.0, 15.0), (15.3, 13.0), (15.6, 15.6), (15.9, 12.8), (16.2, 14.8), (16.6, 17.6), (16.9, 14.8), (17.2, 16.6),
    (17.6, 17.2), (18.0, 18.2), (18.5, 15.8), (19.0, 17.8), (8.6, 11.4), (9.8, 13.0), (10.6, 13.0), (12.0, 15.0),
    (13.0, 15.8), (14.4, 15.8), (15.4, 18.0), (9.0, 8.0), (11.0, 8.6), (12.2, 8.8), (14.8, 10.4), (16.4, 12.6),
]

panel_data = {
    "SOO": [sucrose_soo, sorbitol_soo, fructose_soo, glucose_soo],
    "MOO": [sucrose_moo, sorbitol_moo, fructose_moo, glucose_moo],
}
panel_corr = {"SOO": corr_soo, "MOO": corr_moo}

# ---- figure ----
sns.set_theme(style="white")
plt.rcParams["font.family"] = ["Liberation Sans", "DejaVu Sans"]

W, H = 1112, 663
fig = plt.figure(figsize=(W / 100, H / 100), dpi=100)

col_left_px = [75, 347, 614, 881]
col_width_px = 215
row_span_px = [(37, 289), (355, 609)]

tick_color = "#404040"
spine_color = "#262626"

for r, model in enumerate(models):
    top, bottom = row_span_px[r]
    for c, sugar in enumerate(sugars):
        ax = fig.add_axes([col_left_px[c] / W, 1 - bottom / H,
                           col_width_px / W, (bottom - top) / H])
        df = pd.DataFrame(panel_data[model][c], columns=["Observations", "Predictions"])
        lim = axis_max[c]
        # identity line sits under the point cloud
        ax.plot([0, lim], [0, lim], color="#1a1a1a", lw=0.8, zorder=2, clip_on=False)
        sns.scatterplot(data=df, x="Observations", y="Predictions", ax=ax,
                        color=model_colors[r], s=36, linewidth=0, alpha=1,
                        clip_on=False, zorder=3)
        ax.set_xlim(0, lim)
        ax.set_ylim(0, lim)
        ax.set_xticks(x_ticks[c])
        ax.set_yticks(y_ticks[c])
        ax.set_xlabel("")
        ax.set_ylabel("")
        ax.tick_params(length=0, labelsize=12, labelcolor=tick_color)
        ax.tick_params(axis="y", pad=9)
        ax.tick_params(axis="x", pad=5)
        sns.despine(ax=ax)
        for side in ("left", "bottom"):
            ax.spines[side].set_color(spine_color)
            ax.spines[side].set_linewidth(1.0)
        ax.text(0.07, 0.9, f"Corr = {panel_corr[model][c]:.4f}",
                transform=ax.transAxes, color="#c9ced6", fontsize=12.5,
                family="Lato", va="center", ha="left")
        if r == 0:
            ax.set_title(f"{sugar} {unit}", fontsize=13, fontweight="bold",
                         color="black", pad=7)

# row labels and shared axis labels
fig.text(27 / W, 1 - 165 / H, "SOO", rotation=90, color=model_colors[0],
         fontsize=12, ha="center", va="center")
fig.text(27 / W, 1 - 480 / H, "MOO", rotation=90, color=model_colors[1],
         fontsize=12, ha="center", va="center")
fig.text(17 / W, 1 - 316 / H, "Predictions", rotation=90, color="#262626",
         fontsize=13.5, ha="center", va="center")
fig.text(586 / W, 1 - 651 / H, "Observations", color="#262626",
         fontsize=13.5, ha="center", va="center")

fig.savefig("out.png", dpi=100)
